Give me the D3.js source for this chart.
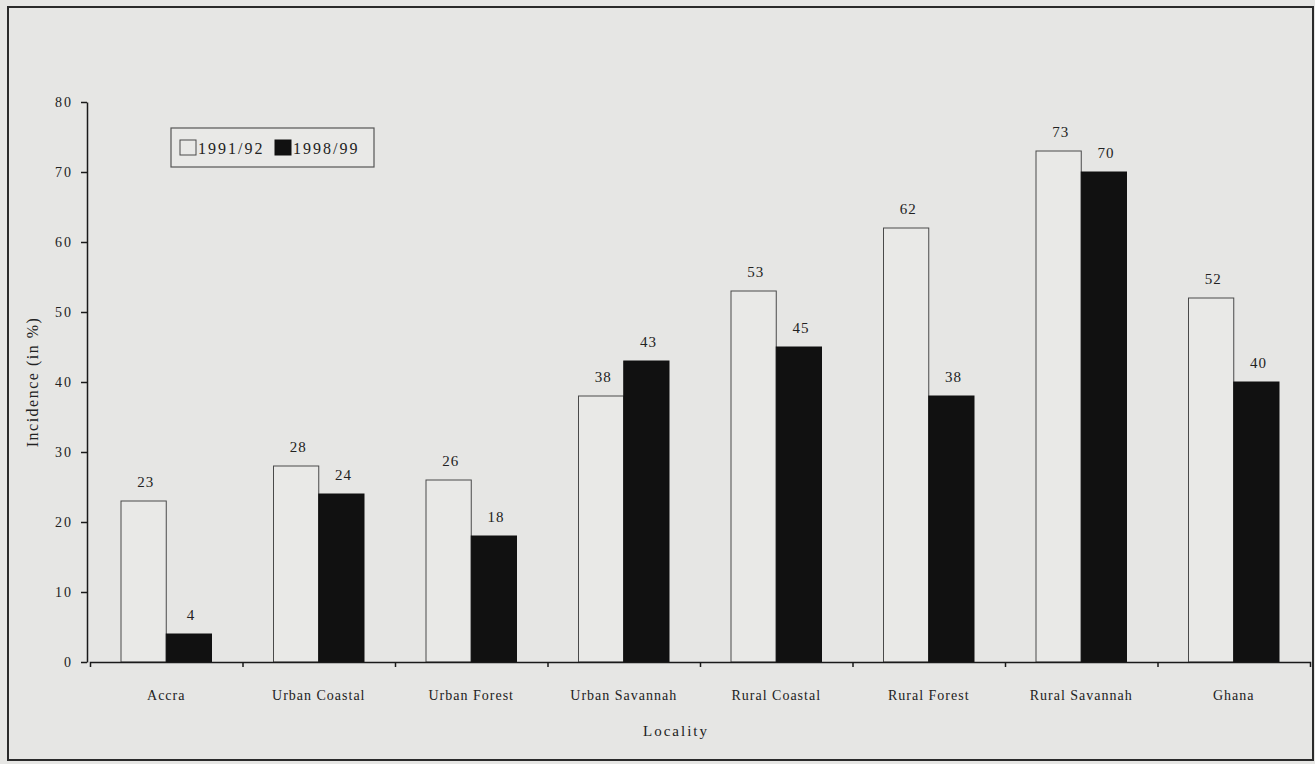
<!DOCTYPE html>
<html>
<head>
<meta charset="utf-8">
<script src="https://cdn.jsdelivr.net/npm/d3@7"></script>
<style>
  body { margin: 0; background: #e6e6e4; }
  text { font-family: 'Liberation Serif', 'Times New Roman', serif; fill: #222; }
</style>
</head>
<body>
<div id="chart"></div>
<script>
// categories along the x axis
const localities = ['Accra', 'Urban Coastal', 'Urban Forest', 'Urban Savannah',
                    'Rural Coastal', 'Rural Forest', 'Rural Savannah', 'Ghana'];
// the two survey rounds
const seriesNames = ['1991/92', '1998/99'];
// incidence (in %) per locality
const values9192 = [23, 28, 26, 38, 53, 62, 73, 52];
const values9899 = [4, 24, 18, 43, 45, 38, 70, 40];
// y axis ticks
const yTicks = [0, 10, 20, 30, 40, 50, 60, 70, 80];

const data = localities.map((loc, i) => ({
    locality: loc,
    '1991/92': values9192[i],
    '1998/99': values9899[i]
}));

let width = 1315,
    height = 764;

let svg = d3.select('#chart')
            .append('svg')
            .attr('width', width)
            .attr('height', height)
            .style('background', '#e6e6e4');

// outer frame of the figure
svg.append('rect')
    .attr('x', 8)
    .attr('y', 7)
    .attr('width', 1305)
    .attr('height', 753)
    .attr('fill', 'none')
    .attr('stroke', '#2a2a2a')
    .attr('stroke-width', 2);

// scales
let xScale = d3.scaleBand()
            .domain(localities)
            .range([90, 1310]);

let xInner = d3.scaleBand()
            .domain(seriesNames)
            .range([31, xScale.bandwidth() - 31]);

let yScale = d3.scaleLinear()
            .domain([0, 80])
            .range([662, 102]);

// category boundaries for the tick marks of the x axis
let xEdge = d3.scaleLinear()
            .domain([0, localities.length])
            .range(xScale.range());

let colors = { '1991/92': '#e9e9e7', '1998/99': '#111' };
let strokes = { '1991/92': '#4a4a4a', '1998/99': '#111' };

// bars
let groups = svg.selectAll('g.group')
            .data(data)
            .enter()
            .append('g')
            .attr('class', 'group')
            .attr('transform', d => `translate(${xScale(d.locality)}, 0)`);

groups.selectAll('rect')
    .data(d => seriesNames.map(s => ({ series: s, value: d[s] })))
    .enter()
    .append('rect')
    .attr('x', d => xInner(d.series))
    .attr('y', d => yScale(d.value))
    .attr('width', xInner.bandwidth())
    .attr('height', d => yScale(0) - yScale(d.value))
    .attr('fill', d => colors[d.series])
    .attr('stroke', d => strokes[d.series])
    .attr('stroke-width', 1);

// value labels above the bars
groups.selectAll('text.value')
    .data(d => seriesNames.map(s => ({ series: s, value: d[s] })))
    .enter()
    .append('text')
    .attr('class', 'value')
    .attr('x', d => xInner(d.series) + xInner.bandwidth() / 2 + 2)
    .attr('y', d => yScale(d.value) - 14)
    .attr('text-anchor', 'middle')
    .style('font-size', '15px')
    .style('letter-spacing', '1px')
    .text(d => d.value);

// y axis
let yAxis = svg.append('g')
            .attr('transform', 'translate(87, 0)')
            .call(d3.axisLeft(yScale).tickValues(yTicks).tickSize(6).tickSizeOuter(0).tickPadding(8));

// x axis: line with ticks between the categories
let xAxis = svg.append('g')
            .attr('transform', `translate(0, ${yScale(0)})`)
            .call(d3.axisBottom(xEdge).tickValues(d3.range(1, localities.length))
                    .tickSize(5).tickSizeOuter(5).tickFormat(''));

// category labels
let xLabels = svg.append('g')
            .attr('transform', `translate(0, ${yScale(0)})`)
            .call(d3.axisBottom(xScale).tickSize(0).tickPadding(28));
xLabels.select('.domain').remove();

svg.selectAll('.domain, .tick line')
    .attr('stroke', '#1a1a1a')
    .attr('stroke-width', 1.5);

yAxis.selectAll('text')
    .style('font-family', "'Liberation Serif', serif")
    .style('font-size', '14px')
    .style('letter-spacing', '2px')
    .attr('fill', '#222');

xLabels.selectAll('text')
    .style('font-family', "'Liberation Serif', serif")
    .style('font-size', '14px')
    .style('letter-spacing', '1px')
    .attr('fill', '#222');

// axis titles
svg.append('text')
    .attr('x', 676)
    .attr('y', 736)
    .attr('text-anchor', 'middle')
    .style('font-size', '15px')
    .style('letter-spacing', '2px')
    .text('Locality');

svg.append('text')
    .attr('transform', 'translate(38, 382) rotate(-90)')
    .attr('text-anchor', 'middle')
    .style('font-size', '16px')
    .style('letter-spacing', '1.5px')
    .text('Incidence (in %)');

// legend
let legend = svg.append('g')
            .attr('transform', 'translate(171, 128)');

legend.append('rect')
    .attr('width', 203)
    .attr('height', 39)
    .attr('fill', '#e9e9e7')
    .attr('stroke', '#555')
    .attr('stroke-width', 1.2);

let legendItem = legend.selectAll('.legend-item')
    .data(seriesNames)
    .enter()
    .append('g')
    .attr('class', 'legend-item')
    .attr('transform', (d, i) => `translate(${9 + i * 95}, 12)`);

legendItem.append('rect')
    .attr('width', 16)
    .attr('height', 15)
    .attr('fill', d => colors[d])
    .attr('stroke', d => strokes[d]);

legendItem.append('text')
    .attr('x', 18)
    .attr('y', 14)
    .style('font-size', '16px')
    .style('letter-spacing', '2px')
    .text(d => d);
</script>
</body>
</html>
